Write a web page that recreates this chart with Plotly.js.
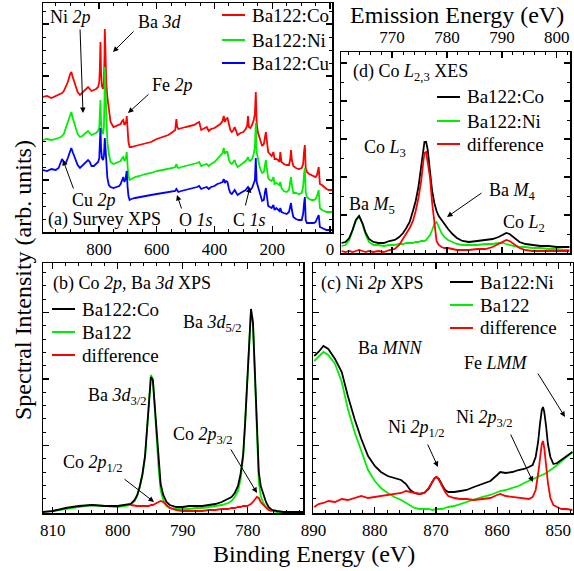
<!DOCTYPE html>
<html><head><meta charset="utf-8">
<script src="https://cdn.plot.ly/plotly-3.0.1.min.js"></script>
<style>html,body{margin:0;padding:0;background:#fff}#g{width:574px;height:571px}</style>
</head><body><div id="g"></div>
<script>
// ---------- Panel (a) Survey XPS ----------
const aEnergy = [994,980,965,950,940,932,928,922,915,908,900,896,890,882,874,866,858,850,842,838,832,826,818,810,803,799,797,795,793,790,786,783,781,780,778,775,771,766,760,750,740,730,725,720,716,712,708,706,704,701,698,694,688,675,660,640,620,600,580,560,545,536,532,529,525,515,500,485,470,460,453,446,438,432,427,420,412,400,390,380,372,368,364,360,355,350,345,340,334,330,326,320,310,300,292,287,284,281,276,270,264,260,257,254,250,245,240,235,229,225,222,218,214,208,202,196,192,186,180,175,172,168,160,150,142,138,135,132,127,118,108,98,93,90,87,84,80,72,64,56,50,45,42,39,35,28,20,12,4,-7];
const aCo = [135,136,134,136,137,138,139,141,145,150,158,160,154,146,140,137,139,141,144,145,143,141,142,143,145,150,165,190,160,146,143,150,175,203,185,150,135,125,110,105,106,107,108,111,112,107,109,110,116,104,90,85,85,86,87,88,90,93,95,97,100,102,113,105,103,104,105,106,107,109,110,102,103,104,105,101,103,104,106,108,111,116,110,113,114,106,102,100,102,105,101,97,99,100,103,106,116,105,104,107,112,118,140,110,100,95,90,86,88,95,100,90,80,78,76,80,73,73,72,70,80,70,68,67,67,72,82,72,66,64,63,64,68,80,87,64,60,58,57,56,55,57,63,65,48,47,45,43,42,42];
const aNi = [92,93,92,93,94,95,96,98,104,110,118,120,113,104,98,95,96,98,100,101,99,97,98,99,101,105,118,132,110,100,98,105,135,165,145,110,90,78,70,68,69,70,71,74,75,71,73,76,80,66,56,52,53,55,56,58,59,61,62,63,64,65,68,65,64,65,66,67,68,69,70,66,67,68,68,66,68,70,73,76,79,84,78,80,80,72,69,68,70,72,68,65,67,69,71,73,75,72,71,73,78,85,109,80,73,67,62,59,60,68,72,62,54,52,51,55,48,49,48,47,50,44,41,40,42,48,55,47,39,39,38,39,45,58,64,40,35,33,32,32,33,36,40,42,24,22,21,20,20,20];
const aCu = [62,61,63,62,64,70,73,70,69,74,82,84,79,72,67,64,66,69,71,72,70,66,66,68,70,74,88,104,85,74,72,76,88,94,86,70,54,47,45,44,45,46,48,52,55,50,53,57,61,45,36,32,33,34,35,36,37,38,39,40,40,41,43,41,40,41,42,43,44,45,46,43,44,45,45,43,45,46,48,49,50,53,49,51,50,43,39,38,40,42,40,37,39,41,42,44,45,43,42,44,48,52,74,50,46,42,36,31,32,40,44,35,26,25,24,27,22,24,22,21,24,20,19,18,20,24,29,22,15,13,12,12,18,28,35,12,9,9,9,9,10,13,16,17,5,4,3,2,2,2];
const aNames = ['Ba122:Co', 'Ba122:Ni', 'Ba122:Cu'];

// ---------- Panel (d) Co L2,3 XES ----------
const dEnergy = [760.8,761.5,762.2,762.8,763.4,764.0,764.6,765.2,765.8,766.6,767.5,768.5,769.5,770.5,771.3,772.0,772.6,773.2,773.8,774.3,774.8,775.3,775.7,775.9,776.2,776.5,776.9,777.3,777.7,778.1,778.5,779.0,779.5,780.2,781.0,781.8,782.8,784.0,785.5,787.0,788.3,789.4,790.2,790.8,791.4,792.2,793.2,794.3,795.5,797.0,798.5,800.0,801.5,802.3];
const dCo = [10,11,15,23,33,37,30,20,14,11,10,10,12,13,16,20,25,31,42,52,66,86,104,111,111,103,82,62,50,42,37,33,29,24,19,15,12,11,12,13,14,16,18,20,19,15,11,9,8,7,7,6,6,6];
const dNi = [7,8,13,22,32,37,29,18,11,8,8,7,8,8,9,9,10,10,10,11,11,12,12,12,13,15,18,23,29,31,26,20,16,13,11,9,8,8,8,9,9,10,10,9,8,7,6,6,5,5,4,4,3,3];
const dDiff = [2,1,2,1,2,3,2,1,2,1,2,1,3,4,8,14,20,25,32,42,55,72,92,100,101,92,76,50,28,12,8,6,5,5,4,3,3,3,4,4,6,9,12,13,12,9,5,3,2,2,2,2,2,2];
const dNames = ['Ba122:Co', 'Ba122:Ni', 'difference'];

// ---------- Panel (b) Co 2p, Ba 3d XPS ----------
const bEnergy = [811.5,810,808,806,804,802,800,799,798,797.4,797,796.6,796.2,795.8,795.5,795.2,794.9,794.6,794.3,794.0,793.7,793.4,793.0,792.5,792,791,790,789,788,787,786,785,784,783,782.5,782,781.5,781.1,780.7,780.4,780.1,779.8,779.5,779.2,778.9,778.6,778.3,778.0,777.6,777.2,776.8,776.3,775.5,774.5,773,771.5];
const bCo = [0,1,4,6,7,6,6,7,8,12,17,26,38,56,80,110,135,132,105,72,48,28,17,10,7,5,5,6,6,6,7,8,10,13,15,19,26,38,58,90,130,175,203,190,140,75,40,26,17,10,5,2,1,0,0,0];
const bBa = [null,1,3,5,7,6,5,6,7,11,16,25,37,55,80,110,137,133,103,68,42,22,12,6,4,3,3,3,4,4,5,6,7,9,11,15,21,33,55,88,128,173,202,188,136,68,30,16,9,5,2,1,0,0,0,0];
const bDiff = [null,null,null,null,null,null,null,null,7,6,6,6,6,6,6,6,7,7,8,9,10,11,10,7,4,2,1,1,1,1,2,2,3,3,4,4,5,5,6,6,6,7,8,10,13,15,14,10,7,4,2,1,null,null,null,null];
const bNames = ['Ba122:Co', 'Ba122', 'difference'];

// ---------- Panel (c) Ni 2p XPS ----------
const cEnergy = [889.9,889.2,888.4,887.6,886.5,885.4,884.4,883.3,882.2,881.1,880.0,879.0,877.9,876.8,875.7,874.9,874.2,873.5,872.7,871.9,871.2,870.6,870.2,869.9,869.5,869.0,868.5,868.0,867.0,866.0,865.0,863.8,862.5,861.1,860.0,859.5,858.6,857.5,856.5,855.6,854.8,854.2,853.7,853.3,853.0,852.7,852.5,852.3,852.0,851.7,851.3,850.8,850.2,849.5,848.7,847.7];
const cNi = [156,160,166,163,153,140,116,93,73,56,46,40,36,34,32,28,22,19,18,19,23,30,34,35,33,27,22,20,20,21,22,25,28,31,37,40,39,40,42,43,45,47,55,70,88,102,105,100,86,68,55,48,49,52,56,60];
const cBa = [151,155,160,157,148,130,103,80,62,42,31,24,19,15,12,9,6,4,3,3,3,2,3,3,3,3,4,5,6,8,10,12,15,17,20,21,22,24,26,29,31,33,34,35,36,37,37,38,39,40,42,44,47,51,55,60];
const cDiff = [5,8,9,11,10,13,12,14,16,14,15,16,17,18,19,21,20,19,18,19,24,30,34,35,32,26,20,16,14,13,13,12,13,14,17,18,16,15,14,13,13,15,22,38,55,68,71,64,47,29,14,7,5,3,3,2];
const cNames = ['Ba122:Ni', 'Ba122', 'difference'];

// ---------- layout helpers ----------
const W = 574, H = 571;
const PX = p => p / W, PY = p => 1 - p / H;
const FONT = '"Liberation Serif", "Times New Roman", serif';
const RED = '#ff0000', GREEN = '#00ee00', BLUE = '#0000ff', BLACK = '#000000';

function ln(x, y, name, color, xa, ya) {
  return {x: x, y: y, name: name, type: 'scatter', mode: 'lines', xaxis: xa, yaxis: ya,
    line: {color: color, width: 1.8}, showlegend: false, connectgaps: false, hoverinfo: 'skip'};
}

const traces = [
  ln(aEnergy, aCo, aNames[0], RED, 'x', 'y'),
  ln(aEnergy, aNi, aNames[1], GREEN, 'x', 'y'),
  ln(aEnergy, aCu, aNames[2], BLUE, 'x', 'y'),
  ln(dEnergy, dNi, dNames[1], GREEN, 'x2', 'y2'),
  ln(dEnergy, dCo, dNames[0], BLACK, 'x2', 'y2'),
  ln(dEnergy, dDiff, dNames[2], RED, 'x2', 'y2'),
  ln(bEnergy, bBa, bNames[1], GREEN, 'x3', 'y3'),
  ln(bEnergy, bCo, bNames[0], BLACK, 'x3', 'y3'),
  ln(bEnergy, bDiff, bNames[2], RED, 'x3', 'y3'),
  ln(cEnergy, cBa, cNames[1], GREEN, 'x4', 'y4'),
  ln(cEnergy, cNi, cNames[0], BLACK, 'x4', 'y4'),
  ln(cEnergy, cDiff, cNames[2], RED, 'x4', 'y4')
];

function xax(dom, range, dtick, mdtick, anchor, side) {
  return {domain: dom, range: range, anchor: anchor, side: side || 'bottom',
    showline: true, linecolor: '#000', linewidth: 1.5, mirror: 'allticks',
    ticks: 'inside', ticklen: 6, tickwidth: 1.2, tickcolor: '#000', dtick: dtick, tick0: 0,
    minor: {ticks: 'inside', ticklen: 3, tickwidth: 1, tickcolor: '#000', dtick: mdtick, tick0: 0, showgrid: false},
    showgrid: false, zeroline: false, tickfont: {family: FONT, size: 17, color: '#000'}, ticklabelstandoff: 1};
}
function yax(dom, range, dtick, mdtick, anchor) {
  return {domain: dom, range: range, anchor: anchor, showline: true, linecolor: '#000', linewidth: 1.5,
    mirror: 'allticks', ticks: 'inside', ticklen: 6, tickwidth: 1.2, tickcolor: '#000',
    dtick: dtick, tick0: 0, showticklabels: false,
    minor: {ticks: 'inside', ticklen: 3, tickwidth: 1, tickcolor: '#000', dtick: mdtick, tick0: 0, showgrid: false},
    showgrid: false, zeroline: false};
}

function txt(t, x, y, xa, size) {
  return {text: t, x: PX(x), y: PY(y), xref: 'paper', yref: 'paper', showarrow: false,
    xanchor: xa || 'left', yanchor: 'middle', font: {family: FONT, size: size || 18, color: '#000'}};
}
function arr(tx, ty, hx, hy) {
  return {text: '', x: PX(hx), y: PY(hy), xref: 'paper', yref: 'paper', showarrow: true,
    ax: tx - hx, ay: ty - hy, arrowhead: 2, arrowsize: 1.1, arrowwidth: 1, arrowcolor: '#000', standoff: 0};
}

// legend blocks drawn as sample lines + labels
const shapes = [];
const legendAnn = [];
function legendBlock(names, colors, lx, rows) {
  names.forEach((n, i) => {
    shapes.push({type: 'line', xref: 'paper', yref: 'paper', x0: PX(lx), x1: PX(lx + 23),
      y0: PY(rows[i]), y1: PY(rows[i]), line: {color: colors[i], width: 2}});
    legendAnn.push(txt(n, lx + 28, rows[i], 'left', 19));
  });
}
legendBlock(aNames, [RED, GREEN, BLUE], 222, [15, 40, 63]);
legendBlock(dNames, [BLACK, GREEN, RED], 437, [97, 121, 144]);
legendBlock(bNames, [BLACK, GREEN, RED], 52, [309, 332, 355]);
legendBlock(cNames, [BLACK, GREEN, RED], 450, [282, 305, 328]);

const annotations = legendAnn.concat([
  // panel a
  txt('Ni <i>2p</i>', 70, 17, 'center'),
  txt('Ba <i>3d</i>', 160, 22, 'center'),
  txt('Fe <i>2p</i>', 172, 85, 'center'),
  txt('Cu <i>2p</i>', 94, 200, 'center'),
  txt('(a) Survey XPS', 46, 220, 'left'),
  txt('O <i>1s</i>', 196, 220, 'center'),
  txt('C <i>1s</i>', 250, 220, 'center'),
  arr(80, 28, 83, 113), arr(135, 30, 113, 52), arr(150, 93, 128, 113),
  arr(74, 190, 63, 160), arr(182, 210, 177, 195), arr(245, 207, 250, 187),
  // panel d
  txt('(d) Co <i>L</i><sub>2,3</sub> XES', 351, 72, 'left'),
  txt('Co <i>L</i><sub>3</sub>', 362, 148, 'left'),
  txt('Ba <i>M</i><sub>5</sub>', 347, 205, 'left'),
  txt('Ba <i>M</i><sub>4</sub>', 487, 191, 'left'),
  txt('Co <i>L</i><sub>2</sub>', 501, 223, 'left'),
  arr(483, 192, 447, 217),
  // panel b
  txt('(b) Co <i>2p</i>, Ba <i>3d</i> XPS', 51, 283, 'left'),
  txt('Ba <i>3d</i><sub>5/2</sub>', 181, 323, 'left'),
  txt('Ba <i>3d</i><sub>3/2</sub>', 86, 396, 'left'),
  txt('Co <i>2p</i><sub>3/2</sub>', 171, 435, 'left'),
  txt('Co <i>2p</i><sub>1/2</sub>', 61, 463, 'left'),
  arr(230, 448, 257, 493), arr(123, 478, 154, 502),
  // panel c
  txt('(c) Ni <i>2p</i> XPS', 319, 283, 'left'),
  txt('Ba <i>MNN</i>', 356, 348, 'left'),
  txt('Ni <i>2p</i><sub>1/2</sub>', 386, 428, 'left'),
  txt('Ni <i>2p</i><sub>3/2</sub>', 454, 418, 'left'),
  txt('Fe <i>LMM</i>', 462, 363, 'left'),
  arr(427, 443, 438, 467), arr(510, 433, 533, 482), arr(537, 372, 565, 417),
  // axis titles
  txt('Binding Energy (eV)', 314, 554, 'center', 24),
  txt('Emission Energy (eV)', 457, 15, 'center', 24),
  Object.assign(txt('Spectral Intensity (arb. units)', 23, 280, 'center', 24), {textangle: -90})
]);

const layout = {
  width: W, height: H, margin: {l: 0, r: 0, t: 0, b: 0}, paper_bgcolor: '#fff', plot_bgcolor: 'rgba(0,0,0,0)',
  font: {family: FONT, color: '#000'}, showlegend: false,
  xaxis: xax([PX(43), PX(332)], [994, -7], 200, 50, 'y'),
  yaxis: yax([PY(232), PY(3)], [0, 229], 52, 13, 'x'),
  xaxis2: xax([PX(341), PX(570)], [760.7, 802.4], 10, 2, 'y2', 'top'),
  yaxis2: yax([PY(253), PY(52)], [0, 201], 38, 19, 'x2'),
  xaxis3: xax([PX(43), PX(303)], [811.5, 771.5], 10, 2, 'y3'),
  yaxis3: yax([PY(513), PY(263)], [-1, 249], 66.5, 13.3, 'x3'),
  xaxis4: xax([PX(313), PX(573)], [890.1, 847.6], 10, 2, 'y4'),
  yaxis4: yax([PY(513), PY(263)], [-1, 249], 66.5, 13.3, 'x4'),
  shapes: shapes,
  annotations: annotations
};

Plotly.newPlot('g', traces, layout, {staticPlot: true, displayModeBar: false});
</script></body></html>
